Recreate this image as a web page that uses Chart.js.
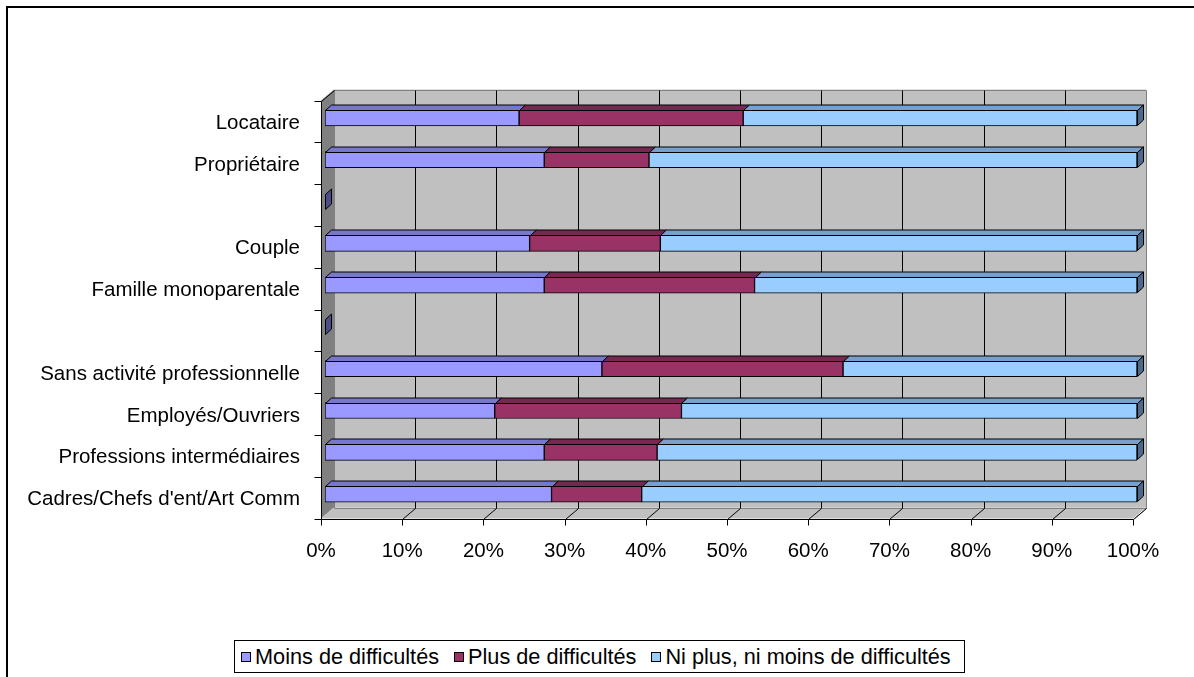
<!DOCTYPE html>
<html>
<head>
<meta charset="utf-8">
<script src="https://cdn.jsdelivr.net/npm/chart.js@4/dist/chart.umd.min.js"></script>
<style>
  html, body { margin: 0; padding: 0; background: #fff; overflow: hidden; }
  #wrap { position: relative; width: 1194px; height: 677px; overflow: hidden; background: #fff; }
  #frame { position: absolute; left: 6px; top: 6px; width: 1400px; height: 900px; border: 2px solid #000; box-sizing: border-box; }
  #chart { position: absolute; left: 0; top: 0; }
  #legend { position: absolute; left: 234px; top: 640px; width: 731px; height: 33px; border: 1px solid #000;
            box-sizing: border-box; display: flex; align-items: center; padding-left: 6px; background: #fff;
            font: 21.7px 'Liberation Sans', Arial, sans-serif; color: #000; white-space: nowrap; }
  #legend .item { display: flex; align-items: center; margin-right: 15px; }
  #legend .sw { width: 8px; height: 8px; border: 1px solid #000; margin-right: 4px; flex: none; }
</style>
</head>
<body>
<div id="wrap">
  <div id="frame"></div>
  <canvas id="chart" width="1194" height="677"></canvas>
  <div id="legend"></div>
</div>
<script>
// Household groups (blank entries are spacer rows between the groups)
const categories = [
  'Locataire',
  'Propriétaire',
  '',
  'Couple',
  'Famille monoparentale',
  '',
  'Sans activité professionnelle',
  'Employés/Ouvriers',
  'Professions intermédiaires',
  "Cadres/Chefs d'ent/Art Comm"
];

// Shares in percent, one value per category
const moinsDifficultes = [23.9, 27.0, 0, 25.2, 27.0, 0, 34.1, 20.9, 27.0, 27.9];
const plusDifficultes  = [27.6, 12.9, 0, 16.1, 25.9, 0, 29.7, 23.0, 13.9, 11.1];
const niPlusNiMoins    = [48.5, 60.1, 0, 58.7, 47.1, 0, 36.2, 56.1, 59.1, 61.0];

const seriesNames = ['Moins de difficultés', 'Plus de difficultés', 'Ni plus, ni moins de difficultés'];

// Axis ticks along the percentage scale
const percentTicks = [0, 10, 20, 30, 40, 50, 60, 70, 80, 90, 100];

// Front, top and end-cap shades of each series
const frontColors = ['#9999ff', '#993366', '#99ccff'];
const topColors   = ['#7777cc', '#772850', '#77a0cc'];
const sideColors  = ['#4c4c88', '#4c1a33', '#4d6888'];

Chart.defaults.font.family = "'Liberation Sans', Arial, sans-serif";
Chart.defaults.font.size = 20.5;
Chart.defaults.color = '#000';

// Offsets of the front axis plane and the back wall relative to the bar faces
const FRONT = { dx: -4, dy: 3.5 };
const BACK  = { dx: 9,  dy: -7.5 };
const BAR_DEPTH = { dx: 6, dy: 5.5 };

const crisp = v => Math.round(v) + 0.5;

// Walls, floor, gridlines and axes of the 3-D box behind the bars
const box3d = {
  id: 'box3d',
  beforeDatasetsDraw(chart) {
    const { ctx, chartArea: a, scales: { x } } = chart;
    const L = x.getPixelForValue(percentTicks[0]);
    const R = x.getPixelForValue(percentTicks[percentTicks.length - 1]);
    const fL = L + FRONT.dx, fR = R + FRONT.dx, fT = a.top + FRONT.dy, fB = a.bottom + FRONT.dy;
    const bL = L + BACK.dx,  bR = R + BACK.dx,  bT = a.top + BACK.dy,  bB = a.bottom + BACK.dy;

    ctx.save();
    ctx.lineWidth = 1;

    // back wall
    ctx.fillStyle = '#c0c0c0';
    ctx.fillRect(bL, bT, bR - bL, bB - bT);

    // left wall
    ctx.fillStyle = '#808080';
    ctx.beginPath();
    ctx.moveTo(fL, fT); ctx.lineTo(bL, bT); ctx.lineTo(bL, bB); ctx.lineTo(fL, fB); ctx.closePath();
    ctx.fill();

    // floor
    ctx.fillStyle = '#c0c0c0';
    ctx.beginPath();
    ctx.moveTo(fL, fB); ctx.lineTo(bL, bB); ctx.lineTo(bR, bB); ctx.lineTo(fR, fB); ctx.closePath();
    ctx.fill();

    // wall outlines in gray
    ctx.strokeStyle = '#808080';
    ctx.beginPath();
    ctx.moveTo(crisp(bL), crisp(bT)); ctx.lineTo(crisp(bR), crisp(bT)); ctx.lineTo(crisp(bR), crisp(bB));
    ctx.lineTo(crisp(fR), crisp(fB));
    ctx.moveTo(crisp(bL), crisp(bT)); ctx.lineTo(crisp(bL), crisp(bB)); ctx.lineTo(crisp(bR), crisp(bB));
    ctx.stroke();

    // vertical gridlines on the back wall and their traces on the floor
    ctx.strokeStyle = '#000';
    ctx.beginPath();
    percentTicks.forEach(v => {
      const p = x.getPixelForValue(v);
      if (v > 0 && v < 100) {
        ctx.moveTo(crisp(p + BACK.dx), crisp(bT));
        ctx.lineTo(crisp(p + BACK.dx), crisp(bB));
      }
      if (v > 0) {
        ctx.moveTo(crisp(p + FRONT.dx), crisp(fB));
        ctx.lineTo(crisp(p + BACK.dx), crisp(bB));
      }
    });
    ctx.stroke();

    // value axis along the front edge of the floor with tick marks
    ctx.beginPath();
    ctx.moveTo(crisp(fL), crisp(fB)); ctx.lineTo(crisp(fR), crisp(fB));
    percentTicks.forEach(v => {
      const p = crisp(x.getPixelForValue(v) + FRONT.dx);
      ctx.moveTo(p, crisp(fB)); ctx.lineTo(p, crisp(fB) + 6);
    });
    // category axis along the front edge of the left wall
    ctx.moveTo(crisp(fL), crisp(fT)); ctx.lineTo(crisp(fL), crisp(fB));
    ctx.moveTo(crisp(fL), crisp(fT)); ctx.lineTo(crisp(bL), crisp(bT));
    const step = (a.bottom - a.top) / categories.length;
    for (let k = 0; k <= categories.length; k++) {
      const ty = crisp(fT + k * step);
      ctx.moveTo(crisp(fL) - 7, ty); ctx.lineTo(crisp(fL), ty);
    }
    ctx.stroke();
    ctx.restore();
  },

  // top faces of every segment and the end cap of each stacked bar
  afterDatasetsDraw(chart) {
    const { ctx } = chart;
    const metas = chart.data.datasets.map((_, i) => chart.getDatasetMeta(i));
    const { dx, dy } = BAR_DEPTH;
    ctx.save();
    ctx.lineWidth = 1;
    ctx.strokeStyle = '#000';
    ctx.lineJoin = 'miter';

    categories.forEach((_, i) => {
      let last = 0;
      metas.forEach((meta, d) => {
        const value = chart.data.datasets[d].data[i];
        if (!value) return;
        last = d;
        const el = meta.data[i];
        const top = crisp(el.y - el.height / 2);
        const x0 = crisp(el.base), x1 = crisp(el.x);
        ctx.fillStyle = topColors[d];
        ctx.beginPath();
        ctx.moveTo(x0, top); ctx.lineTo(x1, top); ctx.lineTo(x1 + dx, top - dy); ctx.lineTo(x0 + dx, top - dy);
        ctx.closePath();
        ctx.fill(); ctx.stroke();
      });
      const el = metas[last].data[i];
      const top = crisp(el.y - el.height / 2);
      const bottom = crisp(el.y + el.height / 2) - 1;
      const xe = crisp(el.x);
      ctx.fillStyle = sideColors[last];
      ctx.beginPath();
      ctx.moveTo(xe, top); ctx.lineTo(xe + dx, top - dy); ctx.lineTo(xe + dx, bottom - dy); ctx.lineTo(xe, bottom);
      ctx.closePath();
      ctx.fill(); ctx.stroke();
    });
    ctx.restore();
  }
};

const seriesValues = [moinsDifficultes, plusDifficultes, niPlusNiMoins];

const chart = new Chart(document.getElementById('chart'), {
  type: 'bar',
  data: {
    labels: categories,
    datasets: seriesValues.map((values, d) => ({
      label: seriesNames[d],
      data: values,
      backgroundColor: frontColors[d],
      borderColor: '#000',
      borderWidth: 1,
      borderSkipped: false,
      barThickness: 16
    }))
  },
  options: {
    indexAxis: 'y',
    responsive: false,
    animation: false,
    devicePixelRatio: 1,
    layout: { padding: { left: 0, right: 57, top: 97, bottom: 0 } },
    plugins: { legend: { display: false }, tooltip: { enabled: false } },
    scales: {
      x: {
        type: 'linear',
        stacked: true,
        min: 0,
        max: 100,
        grid: { display: false },
        border: { display: false },
        afterBuildTicks: scale => { scale.ticks = percentTicks.map(v => ({ value: v })); },
        ticks: { padding: 16, labelOffset: -4, maxRotation: 0, callback: v => v + '%' },
        afterFit: scale => { scale.height = 162; }
      },
      y: {
        type: 'category',
        stacked: true,
        grid: { display: false },
        border: { display: false },
        ticks: { padding: 17, labelOffset: 5.5, autoSkip: false },
        afterFit: scale => { scale.width = 325; }
      }
    }
  },
  plugins: [box3d]
});

// Legend built from the chart's own datasets
const legend = document.getElementById('legend');
chart.data.datasets.forEach(ds => {
  const item = document.createElement('span');
  item.className = 'item';
  const sw = document.createElement('span');
  sw.className = 'sw';
  sw.style.background = ds.backgroundColor;
  const txt = document.createElement('span');
  txt.textContent = ds.label;
  item.appendChild(sw);
  item.appendChild(txt);
  legend.appendChild(item);
});
</script>
</body>
</html>
